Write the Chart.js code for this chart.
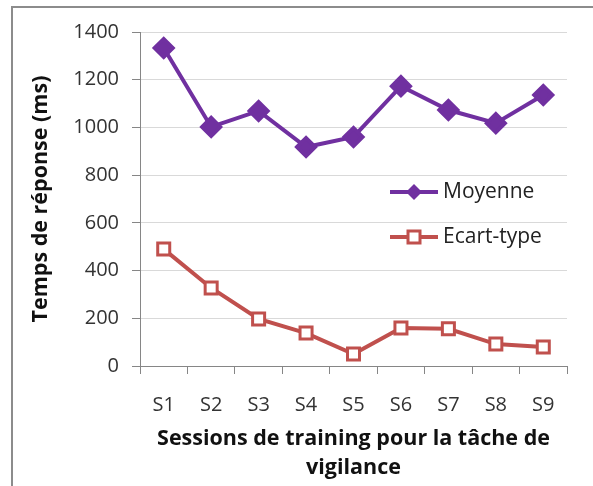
<!DOCTYPE html>
<html>
<head>
<meta charset="utf-8">
<script src="https://cdn.jsdelivr.net/npm/chart.js@4"></script>
<style>
    body { margin: 0; background: #fff; }
    #cadre { position: absolute; left: 11px; top: 6px; width: 600px; height: 500px;
             border-left: 2px solid #8c8c8c; border-top: 2px solid #8c8c8c; }
    #wrap { position: absolute; left: 0; top: 0; width: 593px; height: 486px; }
</style>
</head>
<body>
<div id="cadre"></div>
<div id="wrap"><canvas id="chart" width="593" height="486"></canvas></div>
<script>
// Données
const sessions = ['S1', 'S2', 'S3', 'S4', 'S5', 'S6', 'S7', 'S8', 'S9'];
const moyenne = [1333, 1002, 1069, 918, 960, 1173, 1073, 1018, 1136];
const ecartType = [490, 327, 197, 138, 50, 159, 156, 92, 80];
const ticksY = [0, 200, 400, 600, 800, 1000, 1200, 1400];

const police = '"Open Sans", Lato, sans-serif';

// Légende dessinée dans la zone du graphique (comme Excel)
const legendeInterne = {
    id: 'legendeInterne',
    afterDraw(chart) {
        const ctx = chart.ctx;
        const x0 = 390, ys = [192, 237];
        chart.data.datasets.forEach((ds, i) => {
            const y = ys[i];
            ctx.save();
            ctx.strokeStyle = ds.borderColor;
            ctx.lineWidth = 4;
            ctx.beginPath();
            ctx.moveTo(x0, y);
            ctx.lineTo(x0 + 48, y);
            ctx.stroke();
            const cx = x0 + 24;
            if (ds.pointStyle === 'rectRot') {
                ctx.fillStyle = ds.borderColor;
                ctx.beginPath();
                ctx.moveTo(cx, y - 8);
                ctx.lineTo(cx + 8, y);
                ctx.lineTo(cx, y + 8);
                ctx.lineTo(cx - 8, y);
                ctx.closePath();
                ctx.fill();
            } else {
                ctx.fillStyle = '#fff';
                ctx.lineWidth = 3;
                ctx.fillRect(cx - 6, y - 6, 12, 12);
                ctx.strokeRect(cx - 6, y - 6, 12, 12);
            }
            ctx.fillStyle = '#222';
            ctx.font = '21px ' + police;
            ctx.textBaseline = 'middle';
            ctx.fillText(ds.label, x0 + 53, y);
            ctx.restore();
        });
    }
};

new Chart(document.getElementById('chart'), {
    type: 'line',
    data: {
        labels: sessions,
        datasets: [{
            label: 'Moyenne',
            data: moyenne,
            borderColor: '#7030A0',
            backgroundColor: '#7030A0',
            borderWidth: 4,
            pointStyle: 'rectRot',
            pointRadius: 9,
            pointHoverRadius: 9,
            tension: 0
        }, {
            label: 'Ecart-type',
            data: ecartType,
            borderColor: '#C0504D',
            backgroundColor: '#ffffff',
            borderWidth: 4,
            pointStyle: 'rect',
            pointRadius: 8.5,
            pointHoverRadius: 8.5,
            pointBorderWidth: 3,
            tension: 0
        }]
    },
    options: {
        responsive: false,
        animation: false,
        layout: { padding: { left: 24, top: 32, right: 26, bottom: 0 } },
        plugins: { legend: { display: false }, tooltip: { enabled: false } },
        scales: {
            x: {
                offset: true,
                afterFit: (axis) => { axis.height = 120; },
                grid: { display: true, drawOnChartArea: false, offset: true, tickLength: 8, color: '#868686' },
                border: { color: '#868686', width: 1 },
                ticks: { color: '#333', font: { family: police, size: 20 }, padding: 19 },
                title: {
                    display: true,
                    text: ['Sessions de training pour la tâche de', 'vigilance'],
                    color: '#111',
                    font: { family: police, size: 21.5, weight: 'bold', lineHeight: 1.35 },
                    padding: { top: 0 }
                }
            },
            y: {
                min: 0,
                max: 1400,
                afterFit: (axis) => { axis.width = 116; },
                afterBuildTicks: (axis) => { axis.ticks = ticksY.map(v => ({ value: v })); },
                grid: { color: '#d9d9d9', tickLength: 8, tickColor: '#868686' },
                border: { color: '#868686', width: 1 },
                ticks: { color: '#333', font: { family: police, size: 20 }, padding: 13,
                         callback: (v) => String(v) },
                title: {
                    display: true,
                    text: 'Temps de réponse (ms)',
                    color: '#111',
                    font: { family: police, size: 21.5, weight: 'bold' },
                    padding: { bottom: 4 }
                }
            }
        }
    },
    plugins: [legendeInterne]
});
</script>
</body>
</html>
